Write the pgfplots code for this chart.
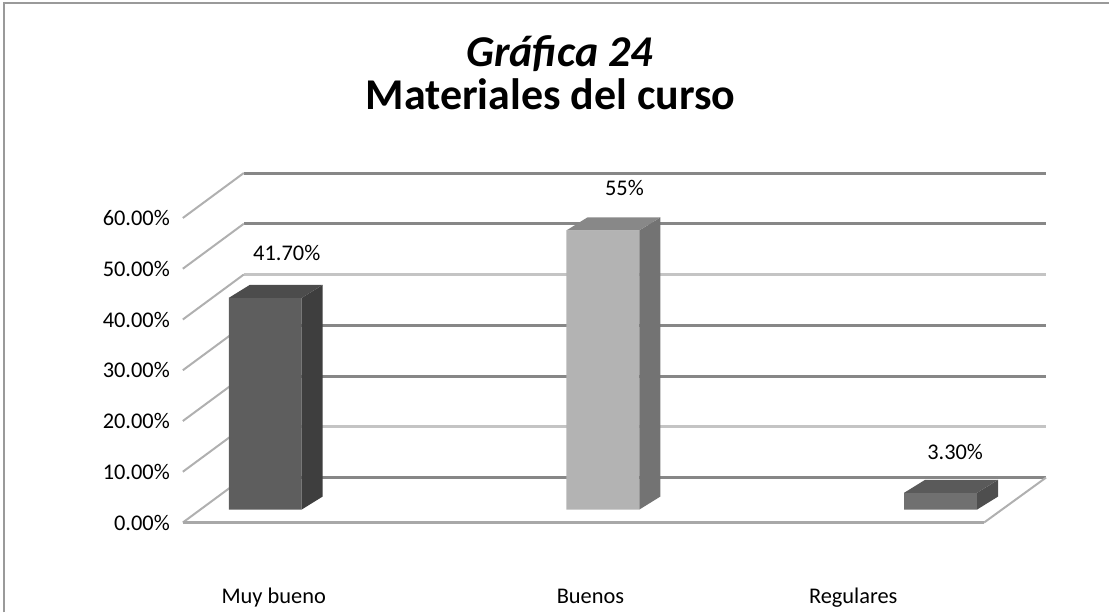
\documentclass[border=0pt]{standalone}
\usepackage{fontspec}
\setmainfont{Carlito}
\usepackage{pgfplots}
\pgfplotsset{compat=1.18}
\definecolor{gdark}{HTML}{878787}
\definecolor{glight}{HTML}{C4C4C4}
\definecolor{gfloor}{HTML}{A8A8A8}
\definecolor{gdiag}{HTML}{B0B0B0}
\definecolor{frame}{HTML}{9A9A9A}
\definecolor{mbF}{HTML}{5E5E5E}\definecolor{mbS}{HTML}{3E3E3E}\definecolor{mbT}{HTML}{4C4C4C}
\definecolor{bF}{HTML}{B3B3B3}\definecolor{bS}{HTML}{737373}\definecolor{bT}{HTML}{888888}
\definecolor{rF}{HTML}{707070}\definecolor{rS}{HTML}{4E4E4E}\definecolor{rT}{HTML}{5A5A5A}
\newcommand{\tickfont}{\fontsize{16.8}{20}\selectfont}
% 3D bar: x position (px), value (%), front, side, top colours
\newcommand{\threedbar}[5]{%
  \pgfmathsetmacro\xa{#1}\pgfmathsetmacro\xb{#1+73}%
  \pgfmathsetmacro\xc{#1+94}\pgfmathsetmacro\xd{#1+21}%
  \pgfmathsetmacro\yt{#2+2.56}\pgfmathsetmacro\ytt{#2+5.12}%
  \addplot[fill=#3,draw=none] coordinates {(\xa,2.56) (\xb,2.56) (\xb,\yt) (\xa,\yt) (\xa,2.56)};
  \addplot[fill=#4,draw=none] coordinates {(\xb,2.56) (\xc,5.12) (\xc,\ytt) (\xb,\yt) (\xb,2.56)};
  \addplot[fill=#5,draw=none] coordinates {(\xa,\yt) (\xb,\yt) (\xc,\ytt) (\xd,\ytt) (\xa,\yt)};
}
\begin{document}
\begin{tikzpicture}
\begin{axis}[
  scale only axis, width=832.5pt, height=459.75pt,
  xmin=0, xmax=1110, ymin=-17.72, ymax=102.95,
  axis line style={draw=none}, tick style={draw=none},
  clip=false,
  ytick={0,10,20,30,40,50,60},
  yticklabels={0.00\%,10.00\%,20.00\%,30.00\%,40.00\%,50.00\%,60.00\%},
  yticklabel style={anchor=east, xshift=131pt, font=\tickfont},
  xtick={274,591,854},
  xticklabels={Muy bueno,Buenos,Regulares},
  xticklabel style={anchor=base, yshift=6.75pt, font=\tickfont},
]
% frame
\draw[frame, line width=1.5pt] (axis cs:4.5,-17.72) -- (axis cs:4.5,102.36) -- (axis cs:1110,102.36);
% back wall gridlines
\addplot[gdark, line width=2.25pt] coordinates {(244,8.86) (1047,8.86)};
\addplot[glight, line width=2.25pt] coordinates {(244,18.86) (1047,18.86)};
\addplot[gdark, line width=2.25pt] coordinates {(244,28.86) (1047,28.86)};
\addplot[gdark, line width=2.25pt] coordinates {(244,38.86) (1047,38.86)};
\addplot[glight, line width=2.25pt] coordinates {(244,48.86) (1047,48.86)};
\addplot[gdark, line width=2.25pt] coordinates {(244,58.86) (1047,58.86)};
\addplot[gdark, line width=2.25pt] coordinates {(244,68.86) (1047,68.86)};
% left diagonals
\addplot[gdiag, line width=1.5pt] coordinates {(183,0) (244,8.86)};
\addplot[gdiag, line width=1.5pt] coordinates {(183,10) (244,18.86)};
\addplot[gdiag, line width=1.5pt] coordinates {(183,20) (244,28.86)};
\addplot[gdiag, line width=1.5pt] coordinates {(183,30) (244,38.86)};
\addplot[gdiag, line width=1.5pt] coordinates {(183,40) (244,48.86)};
\addplot[gdiag, line width=1.5pt] coordinates {(183,50) (244,58.86)};
\addplot[gdiag, line width=1.5pt] coordinates {(183,60) (244,68.86)};
% right diagonal and front floor edge
\addplot[gdiag, line width=1.5pt] coordinates {(985,0) (1047,8.86)};
\addplot[gfloor, line width=2.25pt] coordinates {(183,0) (985,0)};
% bars
\threedbar{229}{41.7}{mbF}{mbS}{mbT}
\threedbar{567}{55}{bF}{bS}{bT}
\threedbar{905}{3.3}{rF}{rS}{rT}
% data labels
\node[font=\tickfont] at (axis cs:287,53.15) {41.70\%};
\node[font=\tickfont] at (axis cs:625,65.94) {55\%};
\node[font=\tickfont] at (axis cs:956,13.98) {3.30\%};
% title
\node[anchor=base, font=\fontsize{33}{39}\selectfont\bfseries\itshape] at (axis cs:560,89.76) {Gráfica 24};
\node[anchor=base, font=\fontsize{33}{39}\selectfont\bfseries] at (axis cs:551,81.3) {Materiales del curso};
\end{axis}
\end{tikzpicture}
\end{document}
